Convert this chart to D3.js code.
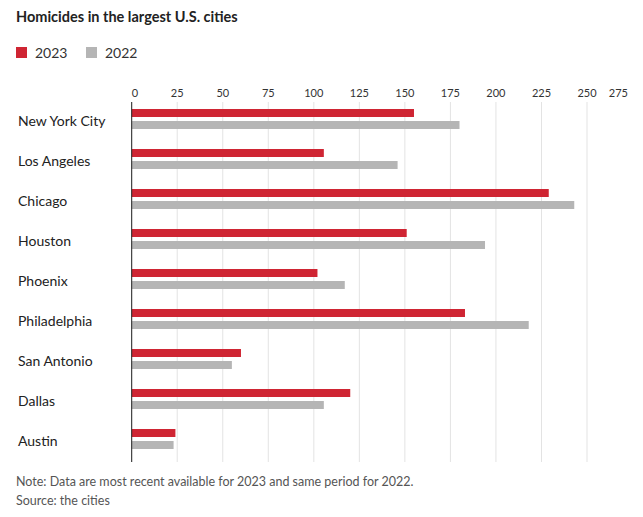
<!DOCTYPE html><html><head><meta charset="utf-8"><script src="https://cdn.jsdelivr.net/npm/d3@7"></script>
<style>body{margin:0;background:#fff;font-family:Lato,"Open Sans",sans-serif;}</style></head><body><svg id="c" width="643" height="517"></svg>
<script>
const cities=["New York City","Los Angeles","Chicago","Houston","Phoenix","Philadelphia","San Antonio","Dallas","Austin"];
const v2023=[155,105.5,229,151,102,183,60,120,24];
const v2022=[180,146,243,194,117,218,55,105.5,23];
const ticks=[0,25,50,75,100,125,150,175,200,225,250,275];
const svg=d3.select("#c");
const x=d3.scaleLinear().domain([0,250]).range([131.7,587]);
const y=d3.scaleBand().domain(cities).range([102,462]);
svg.append("text").attr("x",16).attr("y",22).attr("font-weight","bold").attr("font-size",14.5).attr("fill","#222").text("Homicides in the largest U.S. cities");
[["2023","#cf2533",16],["2022","#b5b5b5",86]].forEach(([t,c,lx])=>{
 svg.append("rect").attr("x",lx).attr("y",47).attr("width",11).attr("height",11).attr("fill",c);
 svg.append("text").attr("x",lx+19).attr("y",58).attr("font-size",14).attr("fill","#333").text(t);});
ticks.forEach((t,i)=>{
 if(t<=250) svg.append("line").attr("x1",x(t)).attr("x2",x(t)).attr("y1",102).attr("y2",462).attr("stroke","#e3e3e3");
 svg.append("text").attr("x",i==ticks.length-1?628:x(t)).attr("y",97).attr("text-anchor",i==0?"start":(i==ticks.length-1?"end":"middle")).attr("font-size",11).attr("fill","#333").text(t);});
cities.forEach((c,i)=>{
 const y0=y(c);
 svg.append("text").attr("x",18).attr("y",y0+24).attr("font-size",14).attr("fill","#222").text(c);
 svg.append("rect").attr("x",x(0)).attr("y",y0+7).attr("width",x(v2023[i])-x(0)).attr("height",8).attr("fill","#cf2533");
 svg.append("rect").attr("x",x(0)).attr("y",y0+19).attr("width",x(v2022[i])-x(0)).attr("height",8).attr("fill","#b5b5b5");});
svg.append("line").attr("x1",x(0)).attr("x2",x(0)).attr("y1",102).attr("y2",462).attr("stroke","#222");
svg.append("text").attr("x",16).attr("y",486).attr("font-size",12.5).attr("fill","#555").text("Note: Data are most recent available for 2023 and same period for 2022.");
svg.append("text").attr("x",16).attr("y",505).attr("font-size",12.5).attr("fill","#555").text("Source: the cities");
</script></body></html>
